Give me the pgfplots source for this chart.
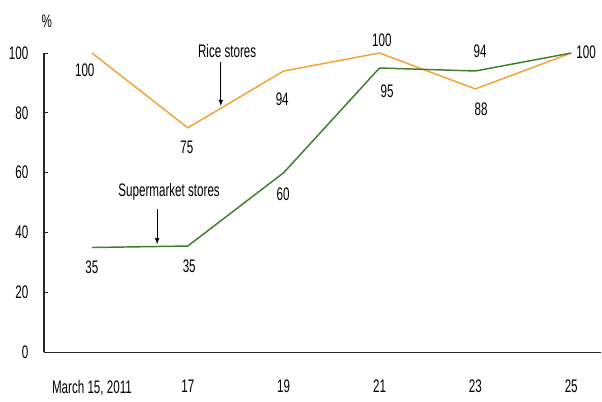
\documentclass[border=0pt]{standalone}
\usepackage{pgfplots}
\pgfplotsset{compat=1.18}
\usepackage{fontspec}
\setmainfont{Liberation Sans}[FakeStretch=0.64]
\definecolor{riceorange}{HTML}{F5A235}
\definecolor{supgreen}{HTML}{3E7F2C}

\begin{document}
\fontsize{13.6pt}{15pt}\selectfont
\begin{tikzpicture}
  \begin{axis}[
      scale only axis,
      width=417.75pt, height=224.25pt,
      xmin=14, xmax=25.63, ymin=0, ymax=100,
      axis x line=bottom, axis y line=left,
      axis line style={-, black!85, line width=0.9pt},
      xtick={15,17,19,21,23,25},
      xticklabels={{March 15, 2011},17,19,21,23,25},
      ytick={0,20,40,60,80,100},
      major x tick style={draw=none},
      ytick style={black!85, line width=0.8pt},
      major tick length=3pt,
      tick align=inside,
      xticklabel style={yshift=-16pt},
      yticklabel style={xshift=-7pt},
      /pgf/number format/assume math mode=true,
      clip=false,
    ]
    % rice stores
    \addplot[riceorange, line width=1.1pt, mark=none] coordinates {
      (15,100) (17,75) (19,94) (21,100) (23,88) (25,100)
    };
    % supermarket stores
    \addplot[supgreen, line width=1.1pt, mark=none] coordinates {
      (15,35) (17,35.5) (19,60) (21,95) (23,94) (25,100)
    };

    % value labels
    \node at (axis cs:14.85,94.3) {100};
    \node at (axis cs:16.98,68.6) {75};
    \node at (axis cs:18.97,84.6) {94};
    \node at (axis cs:21.05,104.3) {100};
    \node at (axis cs:23.12,81.3) {88};
    \node at (axis cs:25.31,100.3) {100};

    \node at (axis cs:15.0,28.3) {35};
    \node at (axis cs:17.03,28.8) {35};
    \node at (axis cs:18.99,52.8) {60};
    \node at (axis cs:21.16,87.3) {95};
    \node at (axis cs:23.1,100.7) {94};

    % series annotations
    \node at (axis cs:16.61,53.5) {Supermarket stores};
    \draw[-latex, black, line width=0.6pt] (axis cs:16.36,47.8) -- (axis cs:16.36,36.1);
    \node at (axis cs:17.82,100.7) {Rice stores};
    \draw[-latex, black, line width=0.6pt] (axis cs:17.69,97) -- (axis cs:17.69,82.3);

    \node at (axis cs:14.06,110.5) {\%};
  \end{axis}
  \path[use as bounding box] ([xshift=-33pt,yshift=-32.25pt]current axis.south west)
    rectangle ([yshift=39.75pt]current axis.north east);
\end{tikzpicture}
\end{document}
